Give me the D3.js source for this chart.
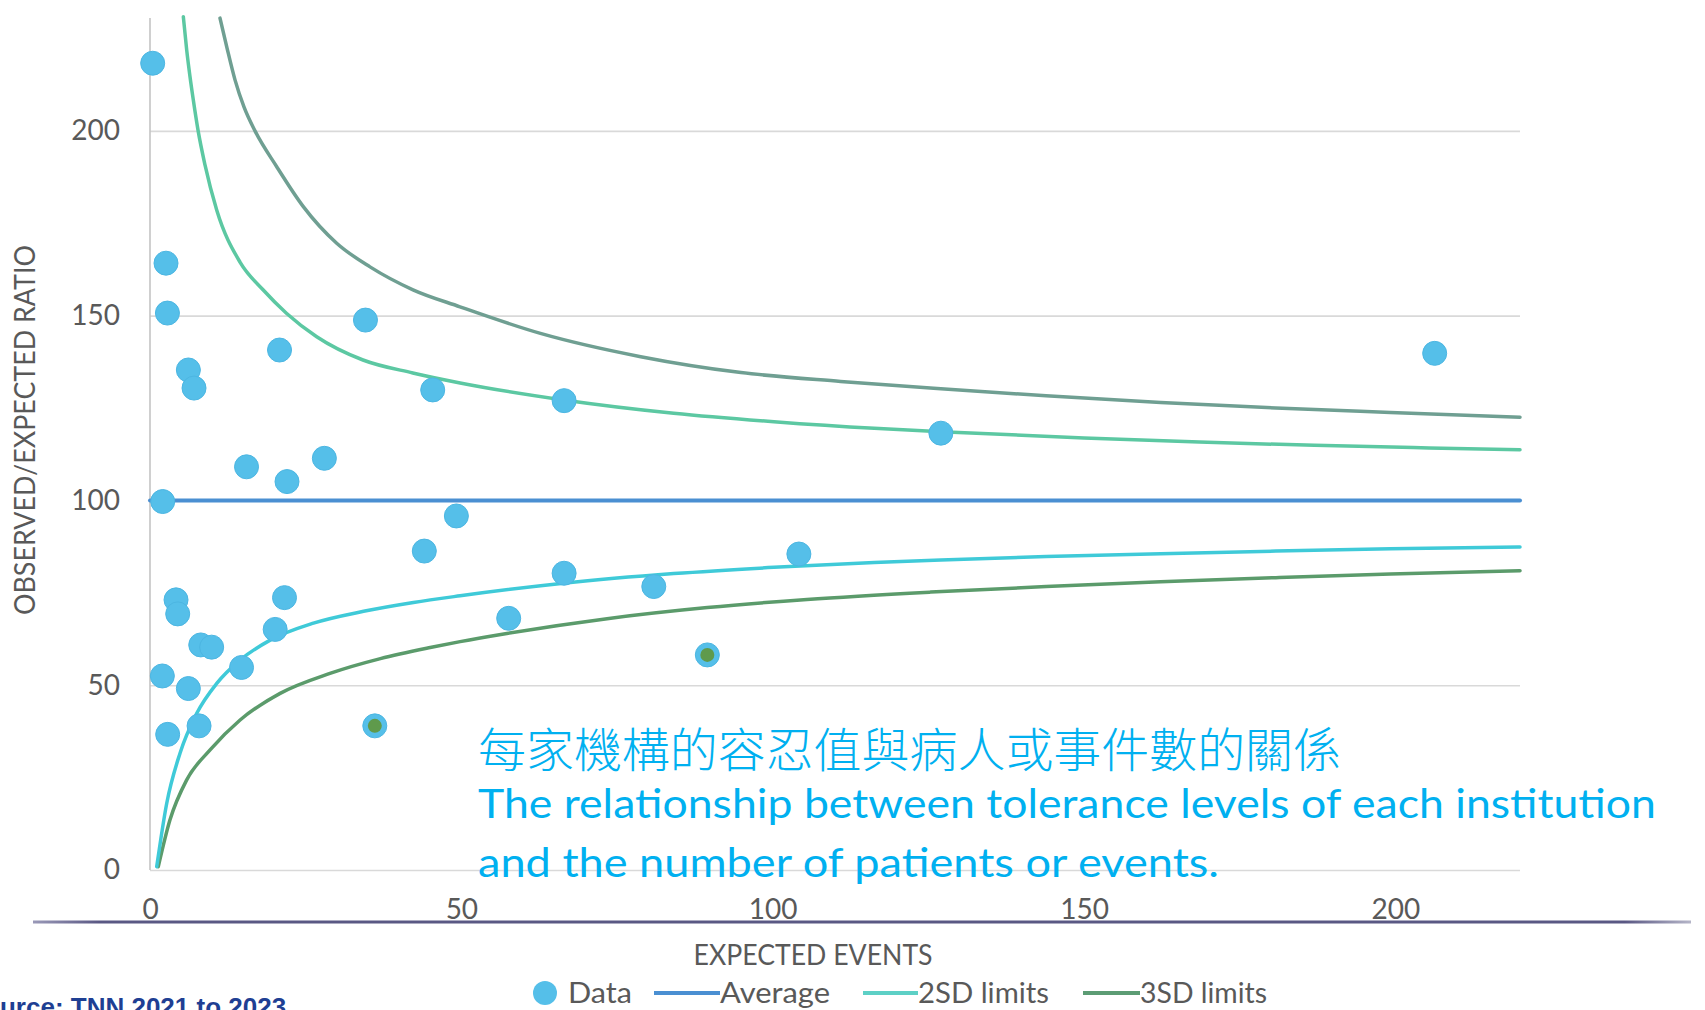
<!DOCTYPE html>
<html><head><meta charset="utf-8">
<script src="https://cdn.jsdelivr.net/npm/d3@7"></script>
<style>
html,body{margin:0;padding:0;background:#fff;overflow:hidden;}
svg{display:block;}
</style></head><body>
<svg id="chart" width="1705" height="1010"></svg>
<script>
// ---------- data ----------
const xTickValues = [0, 50, 100, 150, 200];
const yTickValues = [0, 50, 100, 150, 200];

const expectedEvents = [0.43, 2.57, 2.8, 6.16, 7.07, 20.8, 34.6, 45.4, 66.5, 127.0, 206.3,
  15.5, 22.0, 28.0, 2.04, 49.2, 44.05, 66.5, 80.9, 104.2, 4.18, 4.45, 21.6, 20.1,
  8.15, 9.9, 14.7, 1.98, 6.16, 2.84, 7.88, 36.1, 57.6, 89.5];
const observedExpectedRatio = [218.3, 164.2, 150.7, 135.3, 130.4, 140.7, 148.8, 129.9, 127.0, 118.2, 139.8,
  109.1, 105.1, 111.4, 99.7, 95.8, 86.3, 80.3, 76.7, 85.5, 73.1, 69.3, 73.7, 65.1,
  60.9, 60.3, 54.8, 52.5, 49.1, 36.7, 39.0, 39.0, 68.1, 58.2];
const belowLowerLimit = [0,0,0,0,0,0,0,0,0,0,0, 0,0,0,0,0,0,0,0,0,0,0,0,0, 0,0,0,0,0,0,0,1,0,1];

const averageX = [0, 220];
const averageY = [100, 100];

const upper2sdX = [5.35, 5.89, 6.42, 6.95, 7.71, 8.83, 10.71, 14.45, 18.15, 21.95, 26.77, 34.2, 42.2, 49.8, 66.4, 84.1, 100.2, 116.3, 127.0, 150, 168.5, 187, 205.4, 220];
const upper2sdY = [230.9, 221.9, 214.7, 208.4, 200.2, 190.8, 178.6, 164.5, 157.0, 150.6, 144.3, 138.0, 134.5, 131.8, 127.2, 123.6, 121.3, 119.5, 118.6, 116.9, 115.8, 114.9, 114.2, 113.7];

const lower2sdX = [1.08, 2.68, 4.82, 7.51, 10.72, 14.47, 19.3, 26.25, 34.3, 42.3, 49.8, 66.4, 84.1, 100.2, 116.3, 127.0, 143.9, 162.3, 180.8, 199.2, 220];
const lower2sdY = [0.9, 18.0, 31.6, 42.4, 50.5, 56.8, 62.2, 66.8, 70.0, 72.4, 74.2, 77.6, 80.2, 81.9, 83.2, 83.9, 84.8, 85.6, 86.3, 86.9, 87.4];

const upper3sdX = [11.24, 12.37, 13.65, 15.09, 16.86, 20.35, 24.62, 29.98, 35.33, 42.23, 49.78, 62.7, 78.8, 94.9, 110.9, 127.0, 143.9, 162.3, 180.8, 199.2, 220];
const upper3sdY = [230.5, 222.4, 213.8, 206.5, 200.0, 190.3, 179.5, 169.6, 163.2, 157.0, 152.4, 145.2, 138.9, 134.6, 132.2, 130.2, 128.3, 126.5, 125.0, 123.8, 122.5];

const lower3sdX = [1.33, 3.2, 5.9, 9.65, 14.47, 20.9, 28.9, 37.0, 45.0, 49.8, 57.3, 73.4, 89.5, 105.5, 125.4, 143.9, 162.3, 180.8, 199.2, 220];
const lower3sdY = [0.9, 13.5, 24.4, 32.5, 40.6, 47.8, 53.2, 57.2, 60.2, 61.8, 64.0, 68.0, 71.0, 73.2, 75.2, 76.7, 78.0, 79.1, 80.1, 81.0];

const legendLabels = ["Data", "Average", "2SD limits", "3SD limits"];
const yAxisTitle = "OBSERVED/EXPECTED RATIO";
const xAxisTitle = "EXPECTED EVENTS";
const noteZh = "每家機構的容忍值與病人或事件數的關係";
const noteEn = ["The relationship between tolerance levels of each institution",
                "and the number of patients or events."];
const sourceText = "Source: TNN 2021 to 2023";

// ---------- styles ----------
const FONT = "Lato, 'Open Sans', sans-serif";
const GREY_TXT = "#595959";
const C = {
  data: "#55bfe9", average: "#4a8fd2",
  upper2: "#5cc8a2", lower2: "#3fcad8",
  upper3: "#6f9f92", lower3: "#5b9b6b",
  leg2: "#5dd0c6", leg3: "#5c9c74", flagged: "#5f9a4c"
};

const svg = d3.select("#chart");
const x = d3.scaleLinear().domain([0, 220]).range([150, 1520]);
const y = d3.scaleLinear().domain([0, 230]).range([870, 20]);

// grid lines
const grid = svg.append("g").attr("transform", `translate(${x(0)},0)`)
  .call(d3.axisLeft(y).tickValues(yTickValues).tickSize(-(x(220) - x(0))).tickFormat(""));
grid.select(".domain").remove();
grid.selectAll("line").attr("stroke", "#d9d9d9").attr("stroke-width", 1.6);

// y axis line
svg.append("line").attr("x1", x(0)).attr("x2", x(0)).attr("y1", y(0)).attr("y2", y.range()[1] - 2)
  .attr("stroke", "#c4c4c4").attr("stroke-width", 1.6);

// y tick labels
const yAx = svg.append("g").attr("transform", `translate(${x(0)},0)`)
  .call(d3.axisLeft(y).tickValues(yTickValues).tickSize(0).tickPadding(30));
yAx.select(".domain").remove();
yAx.selectAll("text").attr("font-family", FONT).attr("font-size", 28).attr("fill", GREY_TXT);

// x tick labels
const xAx = svg.append("g").attr("transform", `translate(0,${y(0)})`)
  .call(d3.axisBottom(x).tickValues(xTickValues).tickSize(0).tickPadding(29));
xAx.select(".domain").remove();
xAx.selectAll("text").attr("font-family", FONT).attr("font-size", 28).attr("fill", GREY_TXT);

// decorative dark line under tick labels
const defs = svg.append("defs");
const lg = defs.append("linearGradient").attr("id", "baseGrad").attr("x1", "0%").attr("x2", "100%");
lg.append("stop").attr("offset", "0%").attr("stop-color", "#9a99b8");
lg.append("stop").attr("offset", "4%").attr("stop-color", "#5a5884");
lg.append("stop").attr("offset", "96%").attr("stop-color", "#5a5884");
lg.append("stop").attr("offset", "100%").attr("stop-color", "#b5b5c8");
svg.append("rect").attr("x", 33).attr("y", 920.5).attr("width", 1658).attr("height", 3)
  .attr("fill", "url(#baseGrad)");

// lines
const line = d3.line().x(d => x(d[0])).y(d => y(d[1])).curve(d3.curveMonotoneX);
const zip = (a, b) => a.map((v, i) => [v, b[i]]);
const series = [
  {pts: zip(averageX, averageY), color: C.average, w: 4},
  {pts: zip(upper3sdX, upper3sdY), color: C.upper3, w: 3.5},
  {pts: zip(lower3sdX, lower3sdY), color: C.lower3, w: 3.5},
  {pts: zip(upper2sdX, upper2sdY), color: C.upper2, w: 3.5},
  {pts: zip(lower2sdX, lower2sdY), color: C.lower2, w: 3.5}
];
svg.append("g").selectAll("path").data(series).join("path")
  .attr("d", d => line(d.pts)).attr("fill", "none")
  .attr("stroke", d => d.color).attr("stroke-width", d => d.w)
  .attr("stroke-linejoin", "round").attr("stroke-linecap", "round");

// points
const pts = expectedEvents.map((e, i) => ({e, r: observedExpectedRatio[i], f: belowLowerLimit[i]}));
const pg = svg.append("g");
pg.selectAll("circle.dot").data(pts).join("circle").attr("class", "dot")
  .attr("cx", d => x(d.e)).attr("cy", d => y(d.r)).attr("r", 12)
  .attr("fill", C.data).attr("stroke", "#4cb6e2").attr("stroke-width", 1);
pg.selectAll("circle.flag").data(pts.filter(d => d.f)).join("circle").attr("class", "flag")
  .attr("cx", d => x(d.e)).attr("cy", d => y(d.r)).attr("r", 7)
  .attr("fill", C.flagged);

// axis titles
function fit(sel, w) { sel.attr("textLength", w).attr("lengthAdjust", "spacingAndGlyphs"); return sel; }
fit(svg.append("text").attr("x", 813).attr("y", 965).attr("text-anchor", "middle")
  .attr("font-family", FONT).attr("font-size", 29).attr("fill", GREY_TXT).text(xAxisTitle), 239);
fit(svg.append("text").attr("transform", "translate(35,430) rotate(-90)").attr("text-anchor", "middle")
  .attr("font-family", FONT).attr("font-size", 29).attr("fill", GREY_TXT).text(yAxisTitle), 370);

// legend
const legY = 993;
const lgG = svg.append("g");
lgG.append("circle").attr("cx", 545).attr("cy", legY).attr("r", 12).attr("fill", C.data);
const legLines = [{x1: 654, x2: 720, c: C.average}, {x1: 863, x2: 918, c: C.leg2}, {x1: 1083, x2: 1140, c: C.leg3}];
lgG.selectAll("line").data(legLines).join("line")
  .attr("x1", d => d.x1).attr("x2", d => d.x2).attr("y1", legY).attr("y2", legY)
  .attr("stroke", d => d.c).attr("stroke-width", 4);
const legText = [{x: 568, w: 64}, {x: 720, w: 110}, {x: 918, w: 131}, {x: 1140, w: 127}];
lgG.selectAll("text").data(legendLabels).join("text")
  .attr("x", (d, i) => legText[i].x).attr("y", 1003)
  .attr("font-family", FONT).attr("font-size", 28).attr("fill", GREY_TXT)
  .attr("textLength", (d, i) => legText[i].w).attr("lengthAdjust", "spacingAndGlyphs")
  .text(d => d);

// annotation
const noteColor = "#00b0f0";
fit(svg.append("text").attr("x", 478).attr("y", 767)
  .attr("font-family", "'Noto Sans CJK TC', 'Noto Sans CJK SC', sans-serif").attr("font-size", 47)
  .attr("font-weight", 300).attr("fill", noteColor).text(noteZh), 863);
fit(svg.append("text").attr("x", 478).attr("y", 818)
  .attr("font-family", FONT).attr("font-size", 41).attr("fill", noteColor).text(noteEn[0]), 1178);
fit(svg.append("text").attr("x", 478).attr("y", 877)
  .attr("font-family", FONT).attr("font-size", 41).attr("fill", noteColor).text(noteEn[1]), 741);

// source (clipped at the left/bottom edge as in the reference)
const src = svg.append("text").attr("y", 1016)
  .attr("font-family", "'Liberation Sans', Arial, sans-serif").attr("font-weight", "bold")
  .attr("font-size", 26).attr("fill", "#1f3f93").text(sourceText);
const tmp = svg.append("text").attr("font-family", "'Liberation Sans', Arial, sans-serif")
  .attr("font-weight", "bold").attr("font-size", 26).text("So");
const soW = tmp.node().getComputedTextLength(); tmp.remove();
src.attr("x", -soW);
</script>
</body></html>
